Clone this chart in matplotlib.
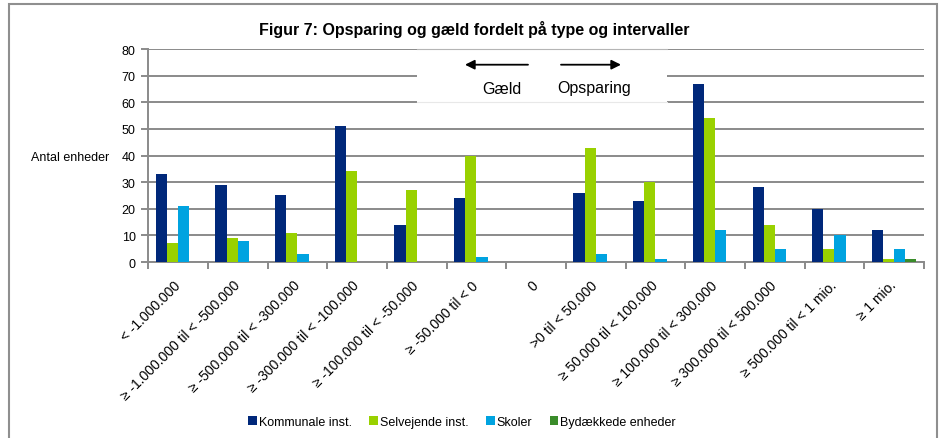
import matplotlib.pyplot as plt
import numpy as np
from matplotlib.patches import Rectangle, FancyArrowPatch

plt.rcParams['font.family'] = ['Liberation Sans', 'DejaVu Sans']

categories = ["< -1.000.000", "≥ -1.000.000 til < -500.000", "≥ -500.000 til < -300.000",
              "≥ -300.000 til < -100.000", "≥ -100.000 til < -50.000", "≥ -50.000 til < 0",
              "0", ">0 til < 50.000", "≥ 50.000 til < 100.000", "≥ 100.000 til < 300.000",
              "≥ 300.000 til < 500.000", "≥ 500.000 til < 1 mio.", "≥ 1 mio."]
kommunale = [33, 29, 25, 51, 14, 24, 0, 26, 23, 67, 28, 20, 12]
selvejende = [7, 9, 11, 34, 27, 40, 0, 43, 30, 54, 14, 5, 1]
skoler = [21, 8, 3, 0, 0, 2, 0, 3, 1, 12, 5, 10, 5]
bydaekkede = [0, 0, 0, 0, 0, 0, 0, 0, 0, 0, 0, 0, 1]
series_names = ["Kommunale inst.", "Selvejende inst.", "Skoler", "Bydækkede enheder"]
colors = ["#00287a", "#99d100", "#00a3e0", "#3a8c2a"]

fig = plt.figure(figsize=(9.42, 4.39), dpi=100)
ax = fig.add_axes([0.1574, 0.4009, 0.8235, 0.4852])

x = np.arange(len(categories))
w = 0.187
for i, (vals, name, c) in enumerate(zip([kommunale, selvejende, skoler, bydaekkede], series_names, colors)):
    ax.bar(x + (i - 1.5) * w, vals, width=w, color=c, label=name, zorder=3)

ax.set_xlim(-0.5, len(categories) - 0.5)
ax.set_ylim(0, 80)
ax.set_yticks(range(0, 81, 10))
ax.yaxis.grid(True, color="#8a8a8a", linewidth=1.4, zorder=0)
ax.set_axisbelow(True)

for s in ["top", "right"]:
    ax.spines[s].set_visible(False)
for s in ["left", "bottom"]:
    ax.spines[s].set_color("#8a8a8a")
    ax.spines[s].set_linewidth(1.4)

ax.set_xticks(x)
ax.set_xticklabels(categories, rotation=45, ha="right", va="center", rotation_mode="anchor", fontsize=10)
ax.tick_params(axis="x", length=0, pad=15)
ax.set_xticks(np.arange(-0.5, len(categories)), minor=True)
ax.tick_params(axis="x", which="minor", length=5, width=1.4, color="#8a8a8a", direction="out")
ax.tick_params(axis="y", length=5, width=1.4, color="#8a8a8a", labelsize=9, pad=4)

fig.text(70 / 942, 1 - 158 / 439, "Antal enheder", fontsize=9, ha="center", va="center")
fig.text(474 / 942, 1 - 30 / 439, "Figur 7: Opsparing og gæld fordelt på type og intervaller",
         fontsize=11.5, fontweight="bold", ha="center", va="center")

# annotation box with arrows
fig.patches.append(Rectangle((417 / 942, 1 - 103 / 439), 250 / 942, 54 / 439, transform=fig.transFigure,
                             facecolor="white", edgecolor="none", zorder=5))
fig.add_artist(plt.Line2D([417 / 942, 667 / 942], [1 - 49.5 / 439, 1 - 49.5 / 439], color="#b5b5b5",
                          linewidth=0.8, zorder=6, transform=fig.transFigure))
fig.add_artist(plt.Line2D([417 / 942, 667 / 942], [1 - 103 / 439, 1 - 103 / 439], color="#e8e8e8",
                          linewidth=0.8, zorder=6, transform=fig.transFigure))
for x0, x1 in [(528, 465), (561, 621)]:
    fig.add_artist(FancyArrowPatch((x0 / 942, 1 - 65.7 / 439), (x1 / 942, 1 - 65.7 / 439),
                                   transform=fig.transFigure, arrowstyle="-|>", color="black",
                                   lw=1.3, mutation_scale=14, shrinkA=0, shrinkB=0, zorder=7))
fig.text(502 / 942, 1 - 89 / 439, "Gæld", fontsize=11.5, ha="center", va="center", zorder=8)
fig.text(594 / 942, 1 - 89 / 439, "Opsparing", fontsize=11.5, ha="center", va="center", zorder=8)

fig.legend(loc="center", bbox_to_anchor=(462 / 942, 1 - 423 / 439), ncol=4, frameon=False, fontsize=9,
           handlelength=0.7, handleheight=0.7, handletextpad=0.15, columnspacing=1.4)

# outer border
fig.patches.append(Rectangle((9 / 942, -0.02), 928 / 942, 1.02 - 5 / 439, transform=fig.transFigure,
                             facecolor="none", edgecolor="#8f8f8f", linewidth=1.5))

fig.savefig("out.png", dpi=100)
